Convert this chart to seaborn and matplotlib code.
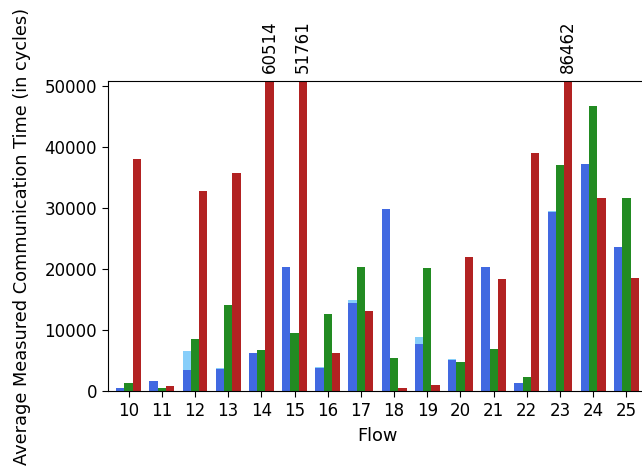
import numpy as np
import pandas as pd
import matplotlib
matplotlib.use('Agg')
import matplotlib.pyplot as plt
import seaborn as sb

# Values
flows = list(range(10, 26))
upperBlue = [550, 1600, 6500, 3700, 6300, 20300, 3900, 14900, 29800, 8800, 5250, 20300, 1370, 29450, 37300, 23700]
blue = [550, 1600, 3500, 3600, 6300, 20300, 3770, 14500, 29800, 7760, 5140, 20300, 1370, 29300, 37300, 23550]
green = [1370, 550, 8600, 14100, 6700, 9450, 12600, 20300, 5350, 20100, 4750, 6900, 2240, 37050, 46700, 31600]
red = [38100, 900, 32800, 35800, 60514, 51761, 6300, 13100, 500, 930, 22000, 18400, 39000, 86462, 31600, 18600]

series = ['blue', 'green', 'red']
colors = {'blue': 'royalblue', 'green': 'forestgreen', 'red': 'firebrick'}
backColors = {'blue': 'lightskyblue', 'green': 'forestgreen', 'red': 'firebrick'}
yMax = 50850

# Build a long table for seaborn
def buildFrame(blueVals):
    rows = []
    for name, vals in zip(series, [blueVals, green, red]):
        for f, v in zip(flows, vals):
            rows.append({'Flow': str(f), 'series': name, 'value': v})
    return pd.DataFrame(rows)

backDF = buildFrame(upperBlue)
df = buildFrame(blue)

fig = plt.figure(figsize=(6.42, 4.69), dpi=100)
ax = fig.add_axes([108 / 642, 1 - 391 / 469, 539 / 642, 310 / 469])

# light blue layer behind, then the main bars on top
sb.barplot(data=backDF, x='Flow', y='value', hue='series', hue_order=series,
           palette=backColors, width=0.75, saturation=1, errorbar=None, legend=False, ax=ax)
sb.barplot(data=df, x='Flow', y='value', hue='series', hue_order=series,
           palette=colors, width=0.75, saturation=1, errorbar=None, legend=False, ax=ax)

ax.set_ylim(0, yMax)
ax.set_xlim(-0.62, len(flows) - 0.38)
ax.set_yticks([0, 10000, 20000, 30000, 40000, 50000])

# label the bars that go past the top
for i, v in enumerate(red):
    if v > yMax:
        ax.annotate(str(v), xy=(i + 0.25, yMax), xytext=(0, 6), textcoords='offset points',
                    rotation=90, ha='center', va='bottom', fontsize=12, annotation_clip=False)

ax.set_xlabel('Flow', fontsize=12.8, labelpad=5)
ax.set_ylabel('Average Measured Communication Time (in cycles)', fontsize=12.8, labelpad=10)
ax.tick_params(labelsize=12, length=4.3)

fig.savefig('out.png', dpi=100)
